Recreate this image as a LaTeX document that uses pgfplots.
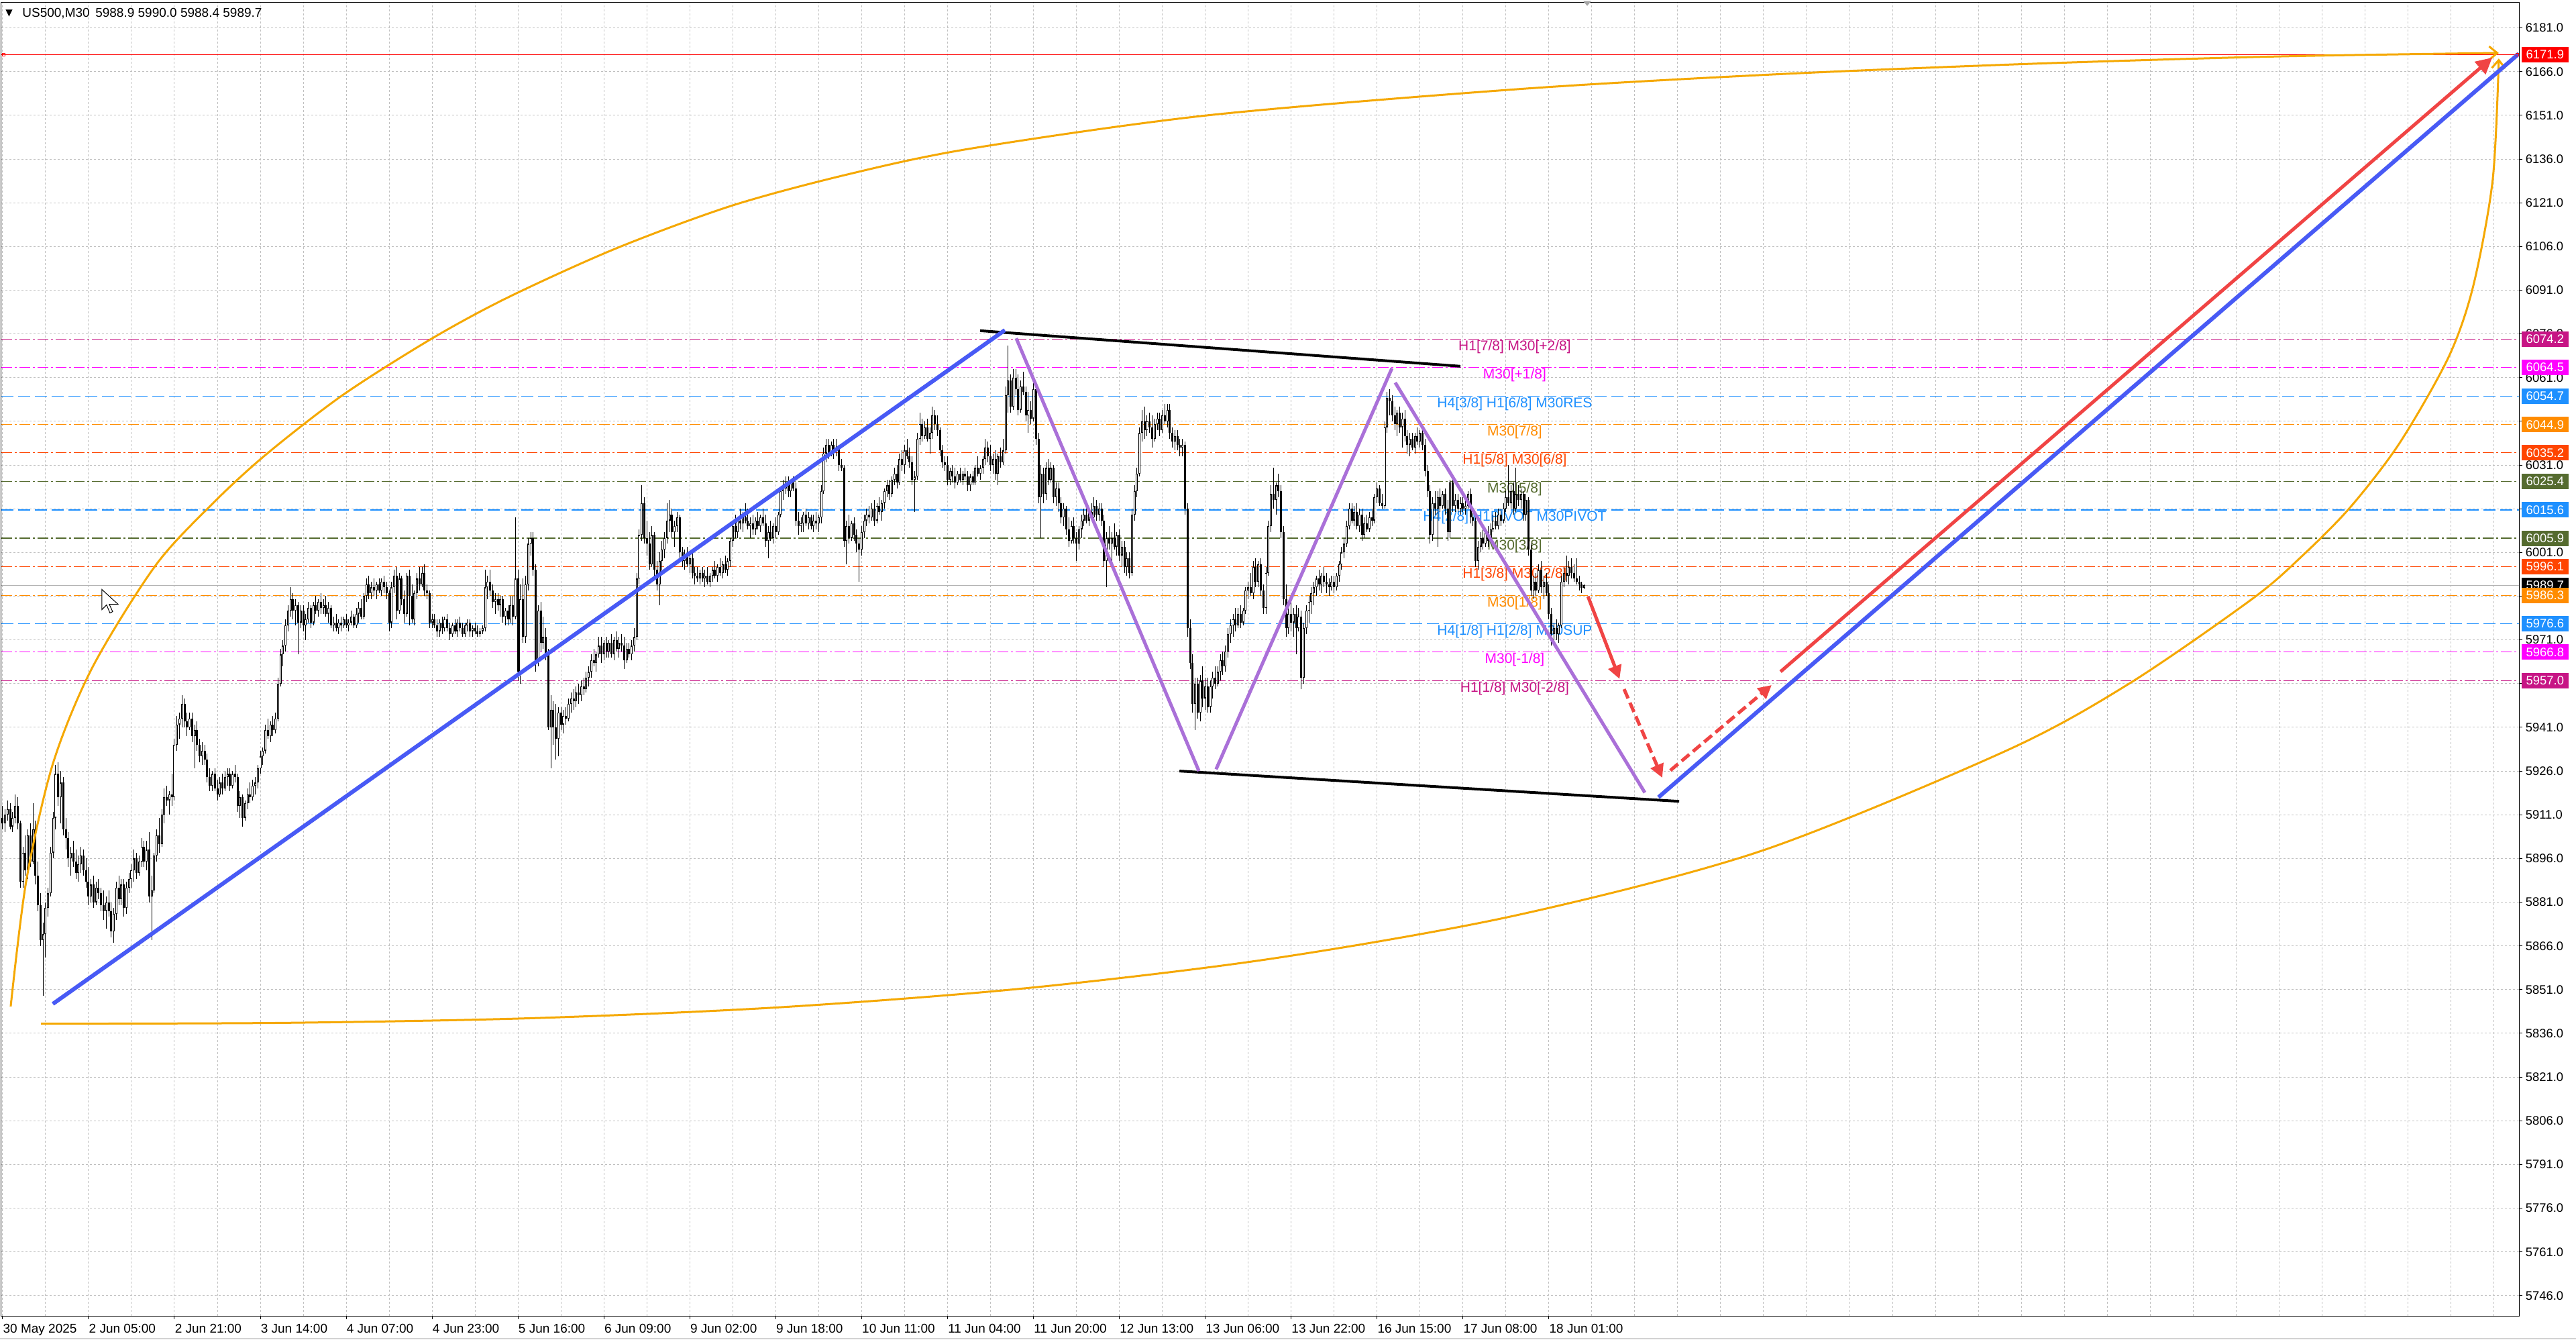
\documentclass[border=0pt]{standalone}
\usepackage{pgfplots}
\pgfplotsset{compat=1.18}
\usepackage{pgfplotstable}
\usepackage{fontspec}
\setmainfont{Liberation Sans}
\newfontfamily\djv{DejaVu Sans}
\usetikzlibrary{arrows.meta}

\definecolor{tlblue}{RGB}{72,90,245}
\definecolor{tlred}{RGB}{240,68,68}
\definecolor{tlpurple}{RGB}{170,112,216}
\definecolor{tlorange}{RGB}{245,168,0}
\definecolor{lvMVR}{RGB}{199,21,133}
\definecolor{lvMag}{RGB}{255,0,255}
\definecolor{lvDB}{RGB}{30,144,255}
\definecolor{lvDO}{RGB}{255,140,0}
\definecolor{lvOR}{RGB}{255,69,0}
\definecolor{lvOl}{RGB}{85,107,47}
\definecolor{gridc}{RGB}{192,192,192}

\pgfplotstableread{
i o h l c
0 5910 5914 5906 5908
1 5908 5913 5905 5911
2 5911 5916 5909 5913
3 5913 5915 5906 5907
4 5907 5912 5905 5910
5 5910 5918 5908 5914
6 5914 5917 5906 5908
7 5908 5909 5886 5888
8 5888 5900 5886 5898
9 5898 5904 5890 5892
10 5892 5906 5889 5904
11 5904 5908 5893 5895
12 5895 5915 5894 5906
13 5906 5909 5887 5890
14 5890 5895 5878 5880
15 5880 5884 5866 5868
16 5868 5874 5849 5870
17 5870 5881 5862 5879
18 5879 5886 5876 5884
19 5884 5900 5883 5898
20 5898 5912 5896 5910
21 5910 5928 5906 5925
22 5925 5929 5914 5917
23 5917 5926 5908 5922
24 5922 5924 5904 5906
25 5906 5910 5899 5903
26 5903 5905 5893 5896
27 5896 5900 5890 5898
28 5898 5902 5893 5895
29 5895 5899 5889 5891
30 5891 5897 5888 5894
31 5894 5900 5891 5897
32 5897 5899 5890 5892
33 5892 5896 5886 5888
34 5888 5893 5880 5883
35 5883 5889 5881 5887
36 5887 5890 5879 5881
37 5881 5888 5880 5886
38 5886 5889 5882 5884
39 5884 5886 5878 5880
40 5880 5885 5875 5878
41 5878 5883 5872 5881
42 5881 5885 5876 5878
43 5878 5881 5869 5871
44 5871 5879 5867 5877
45 5877 5888 5875 5886
46 5886 5890 5880 5882
47 5882 5889 5880 5887
48 5887 5889 5876 5879
49 5879 5888 5877 5886
50 5886 5891 5884 5889
51 5889 5894 5886 5892
52 5892 5899 5888 5896
53 5896 5898 5889 5891
54 5891 5897 5890 5895
55 5895 5903 5893 5900
56 5900 5902 5893 5895
57 5895 5902 5892 5899
58 5899 5905 5881 5883
59 5883 5890 5868 5885
60 5885 5898 5884 5897
61 5897 5906 5895 5904
62 5904 5910 5898 5901
63 5901 5913 5900 5911
64 5911 5920 5908 5917
65 5917 5921 5914 5916
66 5916 5919 5911 5918
67 5918 5925 5914 5917
68 5917 5937 5916 5935
69 5935 5945 5933 5942
70 5942 5946 5937 5944
71 5944 5952 5941 5949
72 5949 5951 5941 5943
73 5943 5946 5938 5941
74 5941 5946 5940 5944
75 5944 5946 5936 5938
76 5938 5942 5927 5940
77 5940 5943 5933 5935
78 5935 5937 5929 5931
79 5931 5936 5928 5933
80 5933 5935 5928 5930
81 5930 5932 5922 5924
82 5924 5927 5919 5921
83 5921 5926 5919 5925
84 5925 5927 5919 5920
85 5920 5923 5916 5918
86 5918 5924 5917 5922
87 5922 5925 5918 5920
88 5920 5926 5919 5924
89 5924 5927 5921 5925
90 5925 5927 5919 5921
91 5921 5926 5920 5925
92 5925 5928 5922 5924
93 5924 5925 5912 5914
94 5914 5919 5910 5917
95 5917 5918 5907 5910
96 5910 5916 5909 5915
97 5915 5920 5913 5918
98 5918 5922 5915 5917
99 5917 5923 5916 5921
100 5921 5924 5918 5922
101 5922 5928 5920 5927
102 5927 5933 5925 5931
103 5931 5934 5928 5933
104 5933 5942 5932 5940
105 5940 5944 5937 5938
106 5938 5943 5936 5942
107 5942 5945 5938 5940
108 5940 5946 5939 5944
109 5944 5958 5943 5956
110 5956 5968 5955 5966
111 5966 5971 5962 5969
112 5969 5978 5967 5976
113 5976 5983 5974 5981
114 5981 5989 5979 5985
115 5985 5987 5978 5981
116 5981 5985 5976 5983
117 5983 5984 5966 5977
118 5977 5983 5975 5981
119 5981 5983 5974 5976
120 5976 5980 5971 5978
121 5978 5984 5977 5982
122 5982 5983 5975 5977
123 5977 5984 5976 5983
124 5983 5986 5980 5981
125 5981 5985 5979 5984
126 5984 5987 5980 5982
127 5982 5985 5980 5983
128 5983 5986 5979 5980
129 5980 5984 5977 5982
130 5982 5983 5975 5976
131 5976 5979 5974 5977
132 5977 5980 5974 5975
133 5975 5978 5973 5977
134 5977 5979 5974 5976
135 5976 5979 5975 5978
136 5978 5980 5975 5976
137 5976 5978 5974 5977
138 5977 5981 5976 5979
139 5979 5980 5975 5976
140 5976 5982 5975 5980
141 5980 5984 5977 5982
142 5982 5985 5978 5979
143 5979 5987 5978 5986
144 5986 5992 5984 5990
145 5990 5993 5985 5987
146 5987 5991 5985 5989
147 5989 5992 5986 5988
148 5988 5991 5985 5990
149 5990 5992 5987 5988
150 5988 5992 5986 5991
151 5991 5993 5987 5989
152 5989 5991 5985 5987
153 5987 5988 5974 5977
154 5977 5991 5975 5989
155 5989 5995 5987 5993
156 5993 5996 5978 5981
157 5981 5994 5980 5992
158 5992 5993 5983 5985
159 5985 5988 5977 5980
160 5980 5994 5979 5993
161 5993 5995 5976 5986
162 5986 5990 5977 5978
163 5978 5988 5976 5987
164 5987 5994 5985 5992
165 5992 5996 5988 5990
166 5990 5996 5989 5994
167 5994 5997 5986 5988
168 5988 5990 5985 5987
169 5987 5988 5975 5977
170 5977 5980 5975 5978
171 5978 5980 5975 5976
172 5976 5978 5972 5974
173 5974 5978 5972 5977
174 5977 5979 5973 5975
175 5975 5979 5974 5978
176 5978 5980 5974 5975
177 5975 5977 5971 5973
178 5973 5977 5972 5976
179 5976 5978 5973 5974
180 5974 5978 5972 5977
181 5977 5979 5974 5975
182 5975 5977 5972 5973
183 5973 5977 5972 5976
184 5976 5978 5974 5977
185 5977 5978 5972 5974
186 5974 5976 5972 5975
187 5975 5977 5973 5974
188 5974 5976 5972 5973
189 5973 5975 5972 5974
190 5974 5976 5973 5975
191 5975 5995 5974 5989
192 5989 5993 5985 5991
193 5991 5995 5986 5988
194 5988 5990 5982 5984
195 5984 5987 5980 5985
196 5985 5987 5981 5983
197 5983 5986 5979 5985
198 5985 5986 5977 5979
199 5979 5982 5976 5981
200 5981 5983 5976 5978
201 5978 5986 5977 5983
202 5983 5986 5976 5979
203 5979 6013 5978 5992
204 5992 5995 5957 5960
205 5960 5990 5956 5985
206 5985 5992 5970 5972
207 5972 5993 5970 5990
208 5990 6006 5988 6004
209 6004 6008 6000 6006
210 6006 6008 5993 5995
211 5995 5997 5960 5964
212 5964 5983 5962 5981
213 5981 5984 5967 5970
214 5970 5979 5968 5972
215 5972 5975 5964 5966
216 5966 5968 5940 5941
217 5941 5952 5927 5947
218 5947 5950 5935 5941
219 5941 5949 5930 5937
220 5937 5948 5931 5946
221 5946 5948 5940 5942
222 5942 5947 5939 5945
223 5945 5948 5942 5944
224 5944 5951 5943 5949
225 5949 5953 5946 5951
226 5951 5954 5947 5950
227 5950 5955 5948 5953
228 5953 5956 5949 5952
229 5952 5957 5950 5955
230 5955 5958 5952 5954
231 5954 5960 5953 5958
232 5958 5962 5955 5960
233 5960 5966 5958 5964
234 5964 5968 5962 5963
235 5963 5967 5960 5966
236 5966 5972 5965 5969
237 5969 5972 5963 5966
238 5966 5971 5964 5970
239 5970 5972 5965 5967
240 5967 5971 5965 5970
241 5970 5973 5965 5966
242 5966 5972 5964 5971
243 5971 5974 5967 5968
244 5968 5972 5965 5970
245 5970 5973 5967 5969
246 5969 5972 5961 5964
247 5964 5970 5963 5968
248 5968 5970 5965 5966
249 5966 5971 5964 5969
250 5969 5975 5967 5972
251 5972 5994 5971 5992
252 5992 6009 5990 6007
253 6007 6024 6005 6018
254 6018 6020 6004 6006
255 6006 6012 6000 6004
256 6004 6008 5995 5997
257 5997 6010 5996 6007
258 6007 6008 5992 5995
259 5995 5998 5988 5990
260 5990 6001 5983 5998
261 5998 6005 5994 6002
262 6002 6008 5999 6006
263 6006 6018 6004 6012
264 6012 6019 6008 6014
265 6014 6016 6006 6008
266 6008 6012 6003 6010
267 6010 6015 6008 6013
268 6013 6014 5999 6001
269 6001 6003 5996 5998
270 5998 6002 5995 6000
271 6000 6003 5996 5997
272 5997 6001 5994 5999
273 5999 6001 5992 5994
274 5994 5996 5990 5993
275 5993 5996 5991 5992
276 5992 5995 5990 5994
277 5994 5996 5991 5992
278 5992 5995 5989 5993
279 5993 5996 5990 5991
280 5991 5994 5989 5993
281 5993 5996 5991 5995
282 5995 5998 5992 5993
283 5993 5997 5991 5996
284 5996 5999 5993 5994
285 5994 5998 5992 5997
286 5997 6000 5994 5995
287 5995 5999 5993 5998
288 5998 6006 5996 6005
289 6005 6012 6003 6010
290 6010 6014 6006 6008
291 6008 6013 6006 6012
292 6012 6016 6009 6011
293 6011 6015 6008 6013
294 6013 6018 6011 6012
295 6012 6016 6009 6010
296 6010 6013 6006 6011
297 6011 6014 6007 6009
298 6009 6013 6007 6012
299 6012 6015 6009 6010
300 6010 6014 6008 6013
301 6013 6016 6010 6011
302 6011 6014 6003 6005
303 6005 6010 5999 6008
304 6008 6012 6005 6006
305 6006 6011 6004 6010
306 6010 6013 6006 6008
307 6008 6015 6007 6014
308 6014 6023 6013 6022
309 6022 6026 6019 6023
310 6023 6027 6021 6025
311 6025 6027 6020 6022
312 6022 6026 6020 6025
313 6025 6027 6022 6023
314 6023 6025 6010 6012
315 6012 6015 6007 6010
316 6010 6013 6008 6011
317 6011 6015 6008 6014
318 6014 6016 6010 6011
319 6011 6015 6009 6013
320 6013 6014 6009 6010
321 6010 6014 6008 6012
322 6012 6015 6009 6011
323 6011 6014 6008 6013
324 6013 6024 6011 6022
325 6022 6037 6021 6035
326 6035 6040 6032 6038
327 6038 6040 6033 6035
328 6035 6039 6034 6038
329 6038 6040 6033 6036
330 6036 6040 6034 6037
331 6037 6038 6029 6031
332 6031 6033 6029 6030
333 6030 6031 6003 6005
334 6005 6012 5997 6010
335 6010 6014 6004 6006
336 6006 6012 6005 6011
337 6011 6013 6005 6007
338 6007 6009 6001 6004
339 6004 6006 5991 6002
340 6002 6010 6000 6008
341 6008 6014 6006 6012
342 6012 6016 6010 6014
343 6014 6017 6011 6013
344 6013 6018 6012 6016
345 6016 6019 6010 6012
346 6012 6018 6011 6017
347 6017 6020 6014 6015
348 6015 6019 6012 6018
349 6018 6023 6016 6022
350 6022 6026 6020 6024
351 6024 6026 6019 6021
352 6021 6027 6020 6026
353 6026 6030 6024 6028
354 6028 6031 6023 6025
355 6025 6035 6024 6033
356 6033 6036 6029 6031
357 6031 6038 6028 6036
358 6036 6040 6033 6034
359 6034 6037 6030 6032
360 6032 6034 6024 6026
361 6026 6029 6015 6027
362 6027 6042 6026 6040
363 6040 6049 6038 6045
364 6045 6047 6039 6041
365 6041 6046 6040 6044
366 6044 6047 6039 6040
367 6040 6044 6035 6042
368 6042 6051 6040 6048
369 6048 6050 6043 6045
370 6045 6048 6041 6043
371 6043 6044 6034 6036
372 6036 6038 6030 6032
373 6032 6034 6029 6031
374 6031 6034 6024 6026
375 6026 6030 6024 6029
376 6029 6031 6025 6027
377 6027 6030 6023 6025
378 6025 6029 6024 6028
379 6028 6030 6025 6026
380 6026 6029 6024 6028
381 6028 6030 6026 6027
382 6027 6029 6022 6024
383 6024 6028 6022 6027
384 6027 6029 6024 6025
385 6025 6031 6024 6030
386 6030 6034 6027 6028
387 6028 6031 6026 6030
388 6030 6034 6028 6033
389 6033 6040 6031 6037
390 6037 6039 6032 6034
391 6034 6038 6029 6031
392 6031 6035 6028 6033
393 6033 6036 6026 6028
394 6028 6035 6024 6034
395 6034 6037 6030 6032
396 6032 6040 6031 6036
397 6036 6058 6035 6055
398 6055 6072 6049 6060
399 6060 6062 6049 6051
400 6051 6064 6050 6061
401 6061 6064 6055 6057
402 6057 6062 6048 6050
403 6050 6060 6049 6058
404 6058 6063 6055 6056
405 6056 6058 6046 6048
406 6048 6056 6042 6050
407 6050 6053 6045 6047
408 6047 6059 6046 6057
409 6057 6058 6038 6040
410 6040 6042 6018 6020
411 6020 6031 6006 6028
412 6028 6030 6018 6021
413 6021 6032 6019 6030
414 6030 6033 6024 6026
415 6026 6032 6025 6030
416 6030 6031 6018 6020
417 6020 6025 6017 6023
418 6023 6025 6015 6018
419 6018 6020 6011 6013
420 6013 6018 6010 6016
421 6016 6017 6007 6009
422 6009 6013 6003 6005
423 6005 6012 6004 6010
424 6010 6013 6004 6006
425 6006 6008 5998 6004
426 6004 6010 6002 6009
427 6009 6014 6006 6012
428 6012 6016 6010 6014
429 6014 6017 6011 6012
430 6012 6016 6010 6015
431 6015 6018 6012 6013
432 6013 6020 6012 6017
433 6017 6019 6012 6014
434 6014 6018 6012 6016
435 6016 6018 6010 6012
436 6012 6014 5996 5998
437 5998 6008 5989 6006
438 6006 6010 6002 6004
439 6004 6008 5997 6006
440 6006 6011 6002 6003
441 6003 6008 6000 6007
442 6007 6009 5998 6000
443 6000 6005 5996 6003
444 6003 6005 5994 5996
445 5996 6001 5993 5999
446 5999 6001 5992 5994
447 5994 6016 5993 6014
448 6014 6024 6012 6022
449 6022 6030 6020 6028
450 6028 6044 6027 6042
451 6042 6050 6039 6046
452 6046 6051 6040 6043
453 6043 6048 6041 6046
454 6046 6049 6042 6044
455 6044 6048 6037 6040
456 6040 6047 6039 6045
457 6045 6049 6043 6047
458 6047 6049 6041 6043
459 6043 6050 6042 6048
460 6048 6052 6045 6046
461 6046 6052 6044 6050
462 6050 6052 6040 6042
463 6042 6044 6037 6039
464 6039 6043 6036 6041
465 6041 6043 6036 6038
466 6038 6040 6034 6037
467 6037 6040 6034 6038
468 6038 6039 6014 6016
469 6016 6018 5972 5975
470 5975 5978 5961 5963
471 5963 5966 5946 5949
472 5949 5958 5940 5956
473 5956 5958 5944 5946
474 5946 5959 5943 5957
475 5957 5962 5948 5951
476 5951 5958 5947 5955
477 5955 5958 5946 5948
478 5948 5957 5946 5955
479 5955 5960 5951 5958
480 5958 5962 5954 5956
481 5956 5962 5955 5960
482 5960 5966 5957 5964
483 5964 5967 5959 5962
484 5962 5969 5960 5967
485 5967 5975 5965 5973
486 5973 5978 5970 5976
487 5976 5980 5972 5978
488 5978 5982 5974 5976
489 5976 5982 5975 5980
490 5980 5983 5975 5977
491 5977 5982 5976 5981
492 5981 5989 5980 5988
493 5988 5991 5985 5989
494 5989 5994 5986 5987
495 5987 5998 5985 5996
496 5996 5999 5989 5991
497 5991 5998 5989 5997
498 5997 5999 5986 5988
499 5988 5990 5980 5982
500 5982 5996 5980 5994
501 5994 6012 5993 6010
502 6010 6024 6008 6021
503 6021 6030 6016 6019
504 6019 6025 6014 6024
505 6024 6028 6020 6022
506 6022 6024 6006 6008
507 6008 6010 5983 5985
508 5985 5990 5972 5975
509 5975 5982 5973 5980
510 5980 5984 5974 5977
511 5977 5982 5972 5980
512 5980 5983 5966 5975
513 5975 5982 5974 5979
514 5979 5981 5954 5958
515 5958 5977 5956 5975
516 5975 5983 5973 5981
517 5981 5986 5977 5984
518 5984 5989 5980 5987
519 5987 5991 5983 5989
520 5989 5993 5986 5992
521 5992 5995 5988 5990
522 5990 5994 5987 5993
523 5993 5996 5989 5991
524 5991 5994 5987 5990
525 5990 5992 5986 5989
526 5989 5993 5988 5991
527 5991 5993 5987 5989
528 5989 5994 5988 5993
529 5993 5998 5991 5997
530 5997 6003 5995 6001
531 6001 6006 5999 6004
532 6004 6012 6003 6010
533 6010 6018 6009 6016
534 6016 6018 6011 6012
535 6012 6017 6010 6015
536 6015 6018 6009 6010
537 6010 6016 6008 6014
538 6014 6016 6005 6007
539 6007 6013 6006 6011
540 6011 6014 6008 6009
541 6009 6015 6008 6013
542 6013 6016 6010 6012
543 6012 6021 6011 6020
544 6020 6025 6018 6023
545 6023 6024 6017 6018
546 6018 6021 6016 6017
547 6017 6046 6016 6044
548 6044 6056 6042 6054
549 6054 6057 6048 6053
550 6053 6055 6046 6048
551 6048 6051 6043 6045
552 6045 6050 6041 6049
553 6049 6051 6042 6044
554 6044 6049 6037 6047
555 6047 6050 6039 6041
556 6041 6043 6035 6038
557 6038 6042 6034 6040
558 6040 6042 6036 6037
559 6037 6042 6035 6041
560 6041 6044 6038 6039
561 6039 6043 6037 6042
562 6042 6044 6036 6038
563 6038 6040 6027 6029
564 6029 6031 6020 6022
565 6022 6024 6004 6007
566 6007 6020 6005 6018
567 6018 6022 6014 6016
568 6016 6022 6003 6020
569 6020 6023 6015 6017
570 6017 6022 6016 6021
571 6021 6023 6014 6016
572 6016 6019 6005 6008
573 6008 6026 6006 6025
574 6025 6027 6015 6017
575 6017 6021 6015 6019
576 6019 6021 6015 6016
577 6016 6020 6014 6018
578 6018 6020 6015 6016
579 6016 6019 6014 6017
580 6017 6022 6016 6021
581 6021 6023 6011 6013
582 6013 6015 6010 6012
583 6012 6013 5996 5998
584 5998 6005 5995 6003
585 6003 6008 6001 6006
586 6006 6009 6002 6004
587 6004 6009 6003 6008
588 6008 6010 6003 6005
589 6005 6011 6004 6009
590 6009 6014 6008 6012
591 6012 6015 6009 6010
592 6010 6016 6009 6014
593 6014 6016 6010 6012
594 6012 6018 6011 6016
595 6016 6022 6015 6020
596 6020 6031 6017 6018
597 6018 6024 6016 6022
598 6022 6025 6014 6016
599 6016 6030 6015 6021
600 6021 6024 6017 6019
601 6019 6023 6016 6021
602 6021 6022 6012 6014
603 6014 6021 6012 6019
604 6019 6020 6000 6002
605 6002 6004 5986 5988
606 5988 5993 5985 5991
607 5991 5994 5986 5988
608 5988 5997 5987 5995
609 5995 5998 5987 5989
610 5989 5993 5985 5991
611 5991 5994 5986 5987
612 5987 5990 5978 5980
613 5980 5982 5969 5973
614 5973 5977 5970 5975
615 5975 5978 5971 5973
616 5973 5977 5970 5976
617 5976 5993 5975 5991
618 5991 5996 5989 5994
619 5994 6000 5991 5993
620 5993 5998 5990 5996
621 5996 5999 5992 5994
622 5994 5997 5991 5992
623 5992 5999 5990 5991
624 5991 5993 5988 5990
625 5990 5991 5987 5988.9
626 5988.9 5990.0 5988.4 5989.7
}\candles

% build one jump-separated path per candle part from the table
\pgfplotstablegetrowsof{\candles}
\pgfmathtruncatemacro{\lastrow}{\pgfplotsretval-1}
\gdef\wickpts{}\gdef\bodypts{}\gdef\bullpts{}
\foreach \r in {0,...,\lastrow}{%
  \pgfplotstablegetelem{\r}{i}\of\candles\let\ci\pgfplotsretval
  \pgfplotstablegetelem{\r}{o}\of\candles\let\co\pgfplotsretval
  \pgfplotstablegetelem{\r}{h}\of\candles\let\ch\pgfplotsretval
  \pgfplotstablegetelem{\r}{l}\of\candles\let\cl\pgfplotsretval
  \pgfplotstablegetelem{\r}{c}\of\candles\let\cc\pgfplotsretval
  \pgfmathsetmacro{\bm}{(\co+\cc)/2}%
  \pgfmathsetmacro{\bt}{max(max(\co,\cc),\bm+0.12)}%
  \pgfmathsetmacro{\bb}{min(min(\co,\cc),\bm-0.12)}%
  \xdef\wickpts{\wickpts(\ci,\cl)(\ci,\ch)(\ci,nan)}%
  \xdef\bodypts{\bodypts(\ci,\bb)(\ci,\bt)(\ci,nan)}%
  \pgfmathtruncatemacro{\isbull}{(\cc-\co)>0.6}%
  \ifnum\isbull=1
    \pgfmathsetmacro{\wt}{\cc-0.28}\pgfmathsetmacro{\wb}{\co+0.28}%
    \xdef\bullpts{\bullpts(\ci,\wb)(\ci,\wt)(\ci,nan)}%
  \fi
}

\tikzset{
  dashdot/.style={dash pattern=on 4pt off 1pt on 0.75pt off 1pt},
  longdash/.style={dash pattern=on 4.5pt off 1.75pt},
  lvtxt/.style={font=\fontsize{5.25}{6}\selectfont, inner sep=0pt},
  lvbox/.style={anchor=west, inner xsep=0pt, inner ysep=0pt, minimum width=17.5pt, minimum height=5.75pt, text=white, font=\fontsize{4.6}{5}\selectfont},
}

\begin{document}
\begin{tikzpicture}
\useasboundingbox (-0.5pt,-8.75pt) rectangle (959.5pt,490.25pt);
\fill[white] (-0.5pt,-8.75pt) rectangle (959.5pt,490.25pt);
\begin{axis}[
  name=ax, at={(0,0)}, anchor=south west,
  scale only axis, width=938.25pt, height=489.25pt,
  xmin=-0.5, xmax=996, ymin=5739.05, ymax=6189.66,
  axis line style={line width=0.25pt, black},
  xtick={0,34,...,612},
  xticklabels={30 May 2025, 2 Jun 05:00, 2 Jun 21:00, 3 Jun 14:00, 4 Jun 07:00, 4 Jun 23:00, 5 Jun 16:00, 6 Jun 09:00, 9 Jun 02:00, 9 Jun 18:00, 10 Jun 11:00, 11 Jun 04:00, 11 Jun 20:00, 12 Jun 13:00, 13 Jun 06:00, 13 Jun 22:00, 16 Jun 15:00, 17 Jun 08:00, 18 Jun 01:00},
  minor xtick={17,51,85,119,153,187,221,255,289,323,357,391,425,459,493,527,561,595,629,646,663,680,697,714,731,748,765,782,799,816,833,850,867,884,901,918,935,952,969,986},
  ytick={5746,5761,...,6181},
  xtick pos=bottom, ytick pos=right, yticklabel pos=right,
  tick align=outside, major tick length=1.25pt, minor tick length=0pt,
  tick style={line width=0.25pt, black},
  grid=both,
  major grid style={gridc, line width=0.25pt, dash pattern=on 0.75pt off 0.75pt},
  minor grid style={gridc, line width=0.25pt, dash pattern=on 0.75pt off 0.75pt},
  xticklabel style={font=\fontsize{4.75}{5.5}\selectfont, anchor=north west, inner sep=0pt, yshift=-1.5pt},
  yticklabel style={font=\fontsize{4.6}{5.5}\selectfont, anchor=west, inner sep=0pt, xshift=1pt,
     /pgf/number format/.cd, fixed, fixed zerofill, precision=1, 1000 sep={}, assume math mode=true},
]
% level lines
\addplot[red, line width=0.3pt] coordinates {(-0.5,6171.9) (996,6171.9)};
\addplot[red, line width=0.25pt, only marks, mark=square, mark size=0.5pt] coordinates {(0.3,6171.9) (995.3,6171.9)};
\addplot[lvMVR, line width=0.3pt, dashdot] coordinates {(-0.5,6074.2) (996,6074.2)};
\addplot[lvMag, line width=0.3pt, dashdot] coordinates {(-0.5,6064.5) (996,6064.5)};
\addplot[lvDB, line width=0.3pt, longdash] coordinates {(-0.5,6054.7) (996,6054.7)};
\addplot[lvDO, line width=0.3pt, dashdot] coordinates {(-0.5,6044.9) (996,6044.9)};
\addplot[lvOR, line width=0.3pt, dashdot] coordinates {(-0.5,6035.2) (996,6035.2)};
\addplot[lvOl, line width=0.3pt, dashdot] coordinates {(-0.5,6025.4) (996,6025.4)};
\addplot[lvDB, line width=0.3pt, longdash] coordinates {(-0.5,6015.6) (996,6015.6)};
\addplot[lvOl, line width=0.3pt, dashdot] coordinates {(-0.5,6005.9) (996,6005.9)};
\addplot[lvOR, line width=0.3pt, dashdot] coordinates {(-0.5,5996.1) (996,5996.1)};
\addplot[gridc!80!gray, line width=0.3pt] coordinates {(-0.5,5989.7) (996,5989.7)};
\addplot[lvDO, line width=0.3pt, dashdot] coordinates {(-0.5,5986.3) (996,5986.3)};
\addplot[lvDB, line width=0.3pt, longdash] coordinates {(-0.5,5976.6) (996,5976.6)};
\addplot[lvMag, line width=0.3pt, dashdot] coordinates {(-0.5,5966.8) (996,5966.8)};
\addplot[lvMVR, line width=0.3pt, dashdot] coordinates {(-0.5,5957.0) (996,5957.0)};
% level texts
\node[lvtxt, text=lvMVR] at (axis cs:598.5,6071.55) {H1[7/8] M30[+2/8]};
\node[lvtxt, text=lvMag] at (axis cs:598.5,6061.85) {M30[+1/8]};
\node[lvtxt, text=lvDB] at (axis cs:598.5,6052.05) {H4[3/8] H1[6/8] M30RES};
\node[lvtxt, text=lvDO] at (axis cs:598.5,6042.25) {M30[7/8]};
\node[lvtxt, text=lvOR] at (axis cs:598.5,6032.55) {H1[5/8] M30[6/8]};
\node[lvtxt, text=lvOl] at (axis cs:598.5,6022.75) {M30[5/8]};
\node[lvtxt, text=lvDB] at (axis cs:598.5,6012.95) {H4[2/8] H1PIVOT M30PIVOT};
\node[lvtxt, text=lvOl] at (axis cs:598.5,6003.25) {M30[3/8]};
\node[lvtxt, text=lvOR] at (axis cs:598.5,5993.45) {H1[3/8] M30[2/8]};
\node[lvtxt, text=lvDO] at (axis cs:598.5,5983.65) {M30[1/8]};
\node[lvtxt, text=lvDB] at (axis cs:598.5,5973.95) {H4[1/8] H1[2/8] M30SUP};
\node[lvtxt, text=lvMag] at (axis cs:598.5,5964.15) {M30[-1/8]};
\node[lvtxt, text=lvMVR] at (axis cs:598.5,5954.35) {H1[1/8] M30[-2/8]};
% candles
\edef\plotwicks{\noexpand\addplot[black, line width=0.25pt, unbounded coords=jump, forget plot] coordinates {\wickpts};}\plotwicks
\edef\plotbodies{\noexpand\addplot[black, line width=0.75pt, unbounded coords=jump, forget plot] coordinates {\bodypts};}\plotbodies
\edef\plotbulls{\noexpand\addplot[white, line width=0.27pt, unbounded coords=jump, forget plot] coordinates {\bullpts};}\plotbulls
% orange arcs
\addplot[tlorange, line width=0.75pt, smooth, -{Straight Barb[length=3pt,width=5pt]}] coordinates {
 (3.2,5845.2) (9.4,5888.5) (19.9,5928.5) (35.5,5961.5) (60.5,5996.5) (82.8,6017.5) (104.1,6034.5) (134.6,6055.0) (169.7,6074.3) (200.2,6088.6) (242.7,6105.3) (288.6,6120.0) (334.3,6130.7) (383.2,6139.6) (476.9,6151.0) (600,6160.0) (700,6165.0) (800,6168.6) (900,6171.2) (988,6172.4)};
\addplot[tlorange, line width=0.75pt, smooth, -{Straight Barb[length=3pt,width=5pt]}] coordinates {
 (15.2,5839.3) (112.4,5839.6) (209.7,5841.2) (306.9,5844.9) (404.1,5851.4) (501.4,5861.5) (598.6,5876.4) (695.8,5898.5) (793.1,5933.0) (841.7,5956.0) (890.3,5985.0) (909.8,5999.5) (929.2,6016.5) (948.7,6038.5) (968.1,6068.0) (977.9,6092.5) (985.6,6129.0) (988,6170.5)};
% trend lines
\addplot[black, line width=1pt] coordinates {(386.9,6077.1) (577.0,6064.9)};
\addplot[black, line width=1pt] coordinates {(465.8,5926.0) (663.6,5915.6)};
\addplot[tlblue, line width=1.5pt] coordinates {(19.9,5846.1) (396.7,6077.3)};
\addplot[tlblue, line width=1.5pt] coordinates {(655.4,5917.0) (996,6172.2)};
\addplot[tlpurple, line width=1.25pt] coordinates {(401.2,6074.5) (473.5,5926.0)};
\addplot[tlpurple, line width=1.25pt] coordinates {(480.3,5926.6) (549.9,6064.2)};
\addplot[tlpurple, line width=1.25pt] coordinates {(551.2,6059.3) (650.0,5918.6)};
\addplot[tlred, line width=1.25pt, -{Triangle[length=5pt,width=5pt]}] coordinates {(627.5,5985.9) (640.0,5957.6)};
\addplot[tlred, line width=1.25pt, dash pattern=on 3.75pt off 1.75pt, -{Triangle[length=5pt,width=5pt]}] coordinates {(641.8,5954.1) (656.9,5923.7)};
\addplot[tlred, line width=1.25pt, dash pattern=on 3.75pt off 1.75pt, -{Triangle[length=5pt,width=5pt]}] coordinates {(660.1,5926.2) (700.2,5955.5)};
\addplot[tlred, line width=1.25pt, -{Triangle[length=6pt,width=6pt]}] coordinates {(703.7,5960.1) (985.4,6170.8)};
% coordinates for right-side labels
\coordinate (r0) at (axis cs:996,6171.9);
\coordinate (r1) at (axis cs:996,6074.2);
\coordinate (r2) at (axis cs:996,6064.5);
\coordinate (r3) at (axis cs:996,6054.7);
\coordinate (r4) at (axis cs:996,6044.9);
\coordinate (r5) at (axis cs:996,6035.2);
\coordinate (r6) at (axis cs:996,6025.4);
\coordinate (r7) at (axis cs:996,6015.6);
\coordinate (r8) at (axis cs:996,6005.9);
\coordinate (r9) at (axis cs:996,5996.1);
\coordinate (r10) at (axis cs:996,5989.7);
\coordinate (r11) at (axis cs:996,5986.3);
\coordinate (r12) at (axis cs:996,5976.6);
\coordinate (r13) at (axis cs:996,5966.8);
\coordinate (r14) at (axis cs:996,5957.0);
\coordinate (cur) at (axis cs:39.3,5988.3);
\end{axis}
% right labels
\node[lvbox, fill=red] at ([xshift=0.75pt]r0) {6171.9};
\node[lvbox, fill=lvMVR] at ([xshift=0.75pt]r1) {6074.2};
\node[lvbox, fill=lvMag] at ([xshift=0.75pt]r2) {6064.5};
\node[lvbox, fill=lvDB] at ([xshift=0.75pt]r3) {6054.7};
\node[lvbox, fill=lvDO] at ([xshift=0.75pt]r4) {6044.9};
\node[lvbox, fill=lvOR] at ([xshift=0.75pt]r5) {6035.2};
\node[lvbox, fill=lvOl] at ([xshift=0.75pt]r6) {6025.4};
\node[lvbox, fill=lvDB] at ([xshift=0.75pt]r7) {6015.6};
\node[lvbox, fill=lvOl] at ([xshift=0.75pt]r8) {6005.9};
\node[lvbox, fill=lvOR] at ([xshift=0.75pt]r9) {5996.1};
\node[lvbox, fill=black] at ([xshift=0.75pt]r10) {5989.7};
\node[lvbox, fill=lvDO] at ([xshift=0.75pt]r11) {5986.3};
\node[lvbox, fill=lvDB] at ([xshift=0.75pt]r12) {5976.6};
\node[lvbox, fill=lvMag] at ([xshift=0.75pt]r13) {5966.8};
\node[lvbox, fill=lvMVR] at ([xshift=0.75pt]r14) {5957.0};
% title
\node[anchor=west, inner sep=0pt, font=\djv\fontsize{3.4}{4}\selectfont] at ([xshift=1.4pt,yshift=-4pt]ax.north west) {▼};
\node[anchor=west, inner sep=0pt, font=\fontsize{4.75}{5.5}\selectfont] at ([xshift=7.65pt,yshift=-4pt]ax.north west) {US500,M30\hspace{0.45em}5988.9 5990.0 5988.4 5989.7};
% chart shift marker
\fill[gray!70] ([xshift=589.5pt,yshift=0.6pt]ax.north west) -- ++(3pt,0) -- ++(-1.5pt,-1.8pt) -- cycle;
% mouse cursor
\draw[fill=white, line width=0.25pt, line join=miter, shift={(cur)}] (0,0) -- (0,-7.5pt) -- (1.75pt,-5.75pt) -- (3pt,-8.75pt) -- (4pt,-8.25pt) -- (2.75pt,-5.5pt) -- (6pt,-5.5pt) -- cycle;
% window border
\draw[gray!35, line width=0.5pt] (-0.5pt,-8.5pt) -- (959.5pt,-8.5pt);
\end{tikzpicture}
\end{document}
